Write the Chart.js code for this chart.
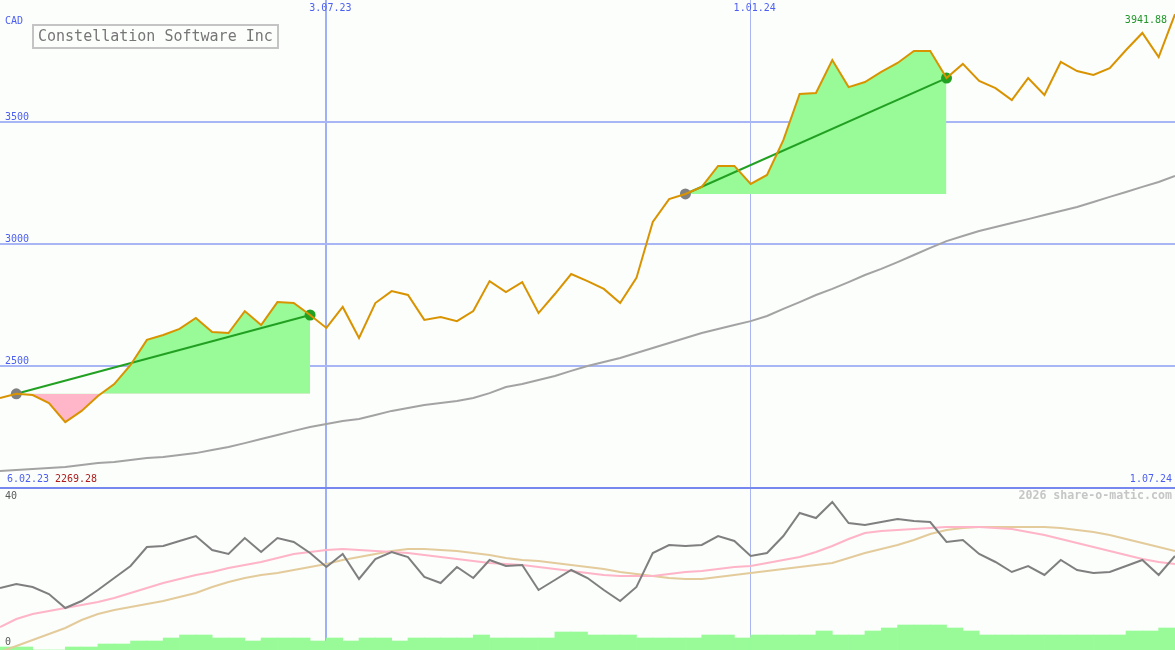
<!DOCTYPE html>
<html><head><meta charset="utf-8">
<script src="https://cdn.jsdelivr.net/npm/chart.js@4.4.1/dist/chart.umd.min.js"></script>
<style>
html,body{margin:0;padding:0;background:#fbfefb;overflow:hidden}
#wrap{position:relative;width:1175px;height:650px}
canvas{display:block}
</style></head>
<body><div id="wrap"><canvas id="c" width="1175" height="650"></canvas></div>
<script>
// ---- data (weekly points, index 0 .. 72) ----
const title = 'Constellation Software Inc';
const currency = 'CAD';
const dateLabels = ['6.02.23', '3.07.23', '1.01.24', '1.07.24'];
const dateLabelWeeks = [0, 20, 46, 72];
const priceTicks = [2500, 3000, 3500];
const lowerTicks = [40, 0];
const lastPrice = 3941.88;
const lowPrice = 2269.28;

const price = [2369, 2386, 2381, 2348, 2270, 2316, 2377, 2426, 2504, 2607,
  2627, 2652, 2697, 2639, 2635, 2725, 2668, 2762, 2758, 2709,
  2656, 2742, 2615, 2758, 2807, 2791, 2689, 2701, 2684, 2725,
  2848, 2803, 2844, 2717, 2795, 2877, 2848, 2816, 2758, 2861,
  3090, 3184, 3205, 3234, 3320, 3320, 3246, 3283, 3426, 3615,
  3619, 3754, 3643, 3664, 3705, 3742, 3791, 3791, 3680, 3738,
  3668, 3639, 3590, 3680, 3611, 3746, 3709, 3693, 3721, 3795,
  3865, 3766, 3941.88];

const movingAvg = [2070, 2074, 2078, 2082, 2086, 2094, 2102, 2107, 2115, 2123,
  2127, 2135, 2143, 2156, 2168, 2184, 2201, 2217, 2234, 2250,
  2262, 2275, 2283, 2299, 2316, 2328, 2340, 2348, 2357, 2369,
  2389, 2414, 2426, 2443, 2459, 2480, 2500, 2516, 2533, 2553,
  2574, 2594, 2615, 2635, 2652, 2668, 2684, 2705, 2734, 2762,
  2791, 2816, 2844, 2873, 2898, 2926, 2955, 2984, 3012, 3033,
  3053, 3070, 3086, 3102, 3119, 3135, 3152, 3172, 3193, 3213,
  3234, 3254, 3279];

const signalStart = [1, 42];
const signalEnd = [19, 58];

const oscillator = [15.5, 16.5, 15.75, 14, 10.5, 12.25, 15, 18, 21, 25.75,
  26, 27.25, 28.5, 25, 24, 28, 24.5, 28, 27, 24.25,
  20.75, 24, 17.75, 22.75, 24.5, 23.25, 18.25, 16.75, 20.75, 18,
  22.5, 21, 21.25, 15, 17.5, 20, 18, 15, 12.25, 15.75,
  24.25, 26.25, 26, 26.25, 28.5, 27.25, 23.5, 24.25, 28.5, 34.25,
  33, 37, 31.75, 31.25, 32, 32.75, 32.25, 32, 27, 27.5,
  24, 22, 19.5, 21, 18.75, 22.5, 20, 19.25, 19.5, 21,
  22.5, 18.75, 23.5];

const oscFast = [5.75, 7.75, 9, 9.75, 10.5, 11.25, 12, 13, 14.25, 15.5,
  16.75, 17.75, 18.75, 19.5, 20.5, 21.25, 22, 23, 24, 24.5,
  25, 25.25, 25, 24.75, 24.5, 24.25, 23.75, 23.25, 22.75, 22.25,
  21.75, 21.5, 21.25, 20.75, 20.25, 19.75, 19.25, 18.75, 18.5, 18.5,
  18.5, 19, 19.5, 19.75, 20.25, 20.75, 21, 21.75, 22.5, 23.25,
  24.5, 26, 27.75, 29.25, 29.75, 30, 30.25, 30.5, 30.75, 30.75,
  30.75, 30.5, 30.25, 29.5, 28.75, 27.75, 26.75, 25.75, 24.75, 23.75,
  22.75, 22, 21.5];

const oscSlow = [-0.5, 1, 2.5, 4, 5.5, 7.5, 9, 10, 10.75, 11.5,
  12.25, 13.25, 14.25, 15.75, 17, 18, 18.75, 19.25, 20, 20.75,
  21.5, 22.5, 23.25, 24, 24.75, 25.25, 25.25, 25, 24.75, 24.25,
  23.75, 23, 22.5, 22.25, 21.75, 21.25, 20.75, 20.25, 19.5, 19,
  18.5, 18, 17.75, 17.75, 18.25, 18.75, 19.25, 19.75, 20.25, 20.75,
  21.25, 21.75, 23, 24.25, 25.25, 26.25, 27.5, 29, 30, 30.5,
  30.75, 30.75, 30.75, 30.75, 30.75, 30.5, 30, 29.5, 28.75, 27.75,
  26.75, 25.75, 24.75];

// volume per week (bar i spans week i .. i+1)
const volume = [0.75, 0.75, 0, 0, 0.75, 0.75, 1.5, 1.5, 2.25, 2.25,
  3, 3.75, 3.75, 3, 3, 2.25, 3, 3, 3, 2.25,
  3, 2.25, 3, 3, 2.25, 3, 3, 3, 3, 3.75,
  3, 3, 3, 3, 4.5, 4.5, 3.75, 3.75, 3.75, 3,
  3, 3, 3, 3.75, 3.75, 3, 3.75, 3.75, 3.75, 3.75,
  4.75, 3.75, 3.75, 4.75, 5.5, 6.25, 6.25, 6.25, 5.5, 4.75,
  3.75, 3.75, 3.75, 3.75, 3.75, 3.75, 3.75, 3.75, 3.75, 4.75,
  4.75, 5.5];

// ---- build ----
const xy = (arr, start) => arr.map((v, i) => ({x: i + (start || 0), y: v}));
const datasets = [];
datasets.push({type: 'line', data: xy(price), yAxisID: 'y', borderColor: '#d99300', borderWidth: 2,
  pointRadius: 0, tension: 0, fill: false, order: 0});
signalStart.forEach((s, k) => {
  const e = signalEnd[k];
  datasets.push({type: 'line', data: [{x: s, y: price[s]}, {x: e, y: price[e]}], yAxisID: 'y',
    borderColor: '#22a022', borderWidth: 2, tension: 0, fill: false, order: 1,
    pointRadius: 5.5, pointBorderWidth: 0, pointBackgroundColor: ['#808080', '#22a022']});
  datasets.push({type: 'line', data: xy(price.slice(s, e + 1), s), yAxisID: 'y', borderWidth: 0,
    borderColor: 'rgba(0,0,0,0)', pointRadius: 0, tension: 0, order: 5,
    fill: {target: {value: price[s]}, above: '#98fb98', below: '#ffb6c8'}});
});
datasets.push({type: 'line', data: xy(movingAvg), yAxisID: 'y', borderColor: '#a3a3a3', borderWidth: 2,
  pointRadius: 0, tension: 0, fill: false, order: 3});
datasets.push({type: 'line', data: xy(oscillator), yAxisID: 'y2', borderColor: '#7f7f7f', borderWidth: 2,
  pointRadius: 0, tension: 0, fill: false, order: 2});
datasets.push({type: 'line', data: xy(oscFast), yAxisID: 'y2', borderColor: '#ffb4c8', borderWidth: 2,
  pointRadius: 0, tension: 0, fill: false, order: 3});
datasets.push({type: 'line', data: xy(oscSlow), yAxisID: 'y2', borderColor: '#e4cb9c', borderWidth: 2,
  pointRadius: 0, tension: 0, fill: false, order: 4});
datasets.push({type: 'bar', data: volume.map((v, i) => ({x: i + 0.5, y: v})), yAxisID: 'y2',
  backgroundColor: '#98fb98', borderWidth: 0, barPercentage: 1, categoryPercentage: 1, order: 9});

const textPlugin = {
  id: 'texts',
  afterDraw(chart) {
    const {ctx, scales: {x, y, y2}} = chart;
    ctx.save();
    ctx.textBaseline = 'middle';
    ctx.font = '10px "DejaVu Sans Mono"';
    ctx.fillStyle = '#4d5ff2';
    ctx.textAlign = 'left';
    ctx.fillText(currency, 5, 21);
    priceTicks.forEach(v => ctx.fillText(String(v), 5, y.getPixelForValue(v) - 5));
    ctx.textAlign = 'center';
    [1, 2].forEach(i => ctx.fillText(dateLabels[i], x.getPixelForValue(dateLabelWeeks[i]) + 4, 8));
    ctx.textAlign = 'left';
    ctx.fillText(dateLabels[0], 7, 479);
    ctx.textAlign = 'right';
    ctx.fillText(dateLabels[3], 1172, 479);
    ctx.textAlign = 'left';
    ctx.fillStyle = '#b01c1c';
    ctx.fillText(lowPrice.toFixed(2), 55, 479);
    ctx.textAlign = 'right';
    ctx.fillStyle = '#22962a';
    ctx.fillText(lastPrice.toFixed(2), 1167, 20);
    // lower panel labels
    ctx.textAlign = 'left';
    ctx.fillStyle = '#5a5a5a';
    ctx.fillText(String(lowerTicks[0]), 5, 496);
    ctx.fillText(String(lowerTicks[1]), 5, 642);
    ctx.textAlign = 'right';
    ctx.font = 'bold 11.6px "DejaVu Sans Mono"';
    ctx.fillStyle = '#c6c6c6';
    ctx.fillText('2026 share-o-matic.com', 1172, 496);
    // title box
    ctx.fillStyle = '#fbfefb';
    ctx.fillRect(33, 25, 245, 23);
    ctx.strokeStyle = '#c4c4c4';
    ctx.lineWidth = 2;
    ctx.strokeRect(33, 25, 245, 23);
    ctx.fillStyle = '#767676';
    ctx.textAlign = 'left';
    ctx.font = '15px "DejaVu Sans Mono"';
    ctx.fillText(title, 38, 37);
    ctx.restore();
  }
};

new Chart(document.getElementById('c'), {
  type: 'line',
  data: {datasets},
  options: {
    responsive: false, animation: false, devicePixelRatio: 1, events: [],
    layout: {padding: 0, autoPadding: false},
    plugins: {legend: {display: false}, tooltip: {enabled: false}},
    scales: {
      x: {type: 'linear', min: 0, max: 72, offset: false,
        ticks: {display: false}, border: {display: false, width: 0},
        grid: {offset: false, drawTicks: false, tickLength: 0,
          color: c => c.tick && c.tick.value === 20 ? '#9fb0f5' : '#aab6f2',
          lineWidth: c => c.tick && c.tick.value === 20 ? 2 : 1},
        afterBuildTicks: s => { s.ticks = [{value: dateLabelWeeks[1]}, {value: dateLabelWeeks[2]}]; }},
      y: {type: 'linear', position: 'right', stack: 'panels', stackWeight: 488, min: 2000, max: 4000,
        ticks: {display: false, padding: 0}, border: {display: false, width: 0},
        grid: {drawTicks: false, tickLength: 0, lineWidth: 2,
          color: c => c.tick && c.tick.value === 2000 ? '#7688f0' : '#a9b6f6'},
        afterBuildTicks: s => { s.ticks = [2000].concat(priceTicks).map(v => ({value: v})); }},
      y2: {type: 'linear', position: 'right', stack: 'panels', stackWeight: 162, min: 0, max: 40.5,
        ticks: {display: false, padding: 0}, border: {display: false, width: 0},
        grid: {display: false, drawTicks: false, tickLength: 0}}
    }
  },
  plugins: [textPlugin]
});
</script>
</body></html>
